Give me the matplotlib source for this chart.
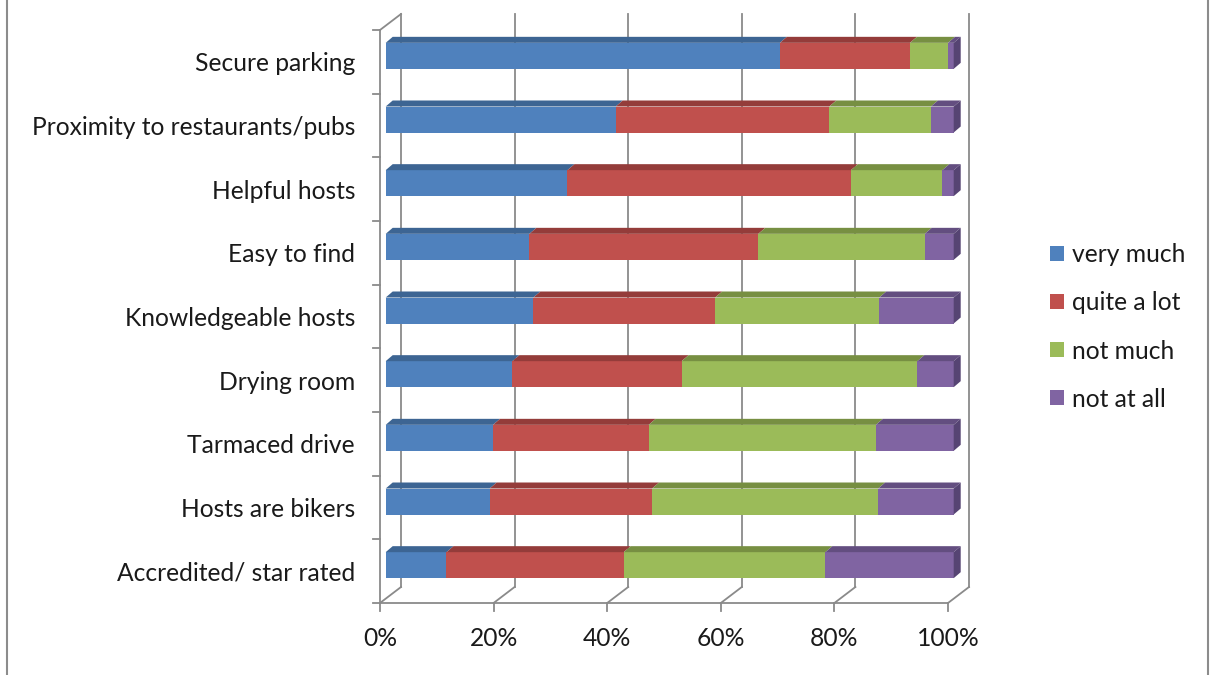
import matplotlib.pyplot as plt
from matplotlib.patches import Polygon, Patch, Rectangle

categories = ['Secure parking', 'Proximity to restaurants/pubs', 'Helpful hosts',
              'Easy to find', 'Knowledgeable hosts', 'Drying room',
              'Tarmaced drive', 'Hosts are bikers', 'Accredited/ star rated']
series = ['very much', 'quite a lot', 'not much', 'not at all']
very_much = [69.4, 40.5, 32.0, 25.3, 26.0, 22.3, 18.9, 18.3, 10.7]
quite_a_lot = [22.9, 37.6, 49.9, 40.3, 32.0, 29.8, 27.4, 28.6, 31.2]
not_much = [6.7, 17.9, 16.1, 29.3, 28.9, 41.5, 40.0, 39.8, 35.5]
not_at_all = [1.0, 4.0, 2.0, 5.1, 13.1, 6.4, 13.7, 13.3, 22.6]
xticks = [0, 20, 40, 60, 80, 100]
xticklabels = ['0%', '20%', '40%', '60%', '80%', '100%']

face = ['#4F81BD', '#C0504D', '#9BBB59', '#8064A2']
top = ['#3D6593', '#943C3A', '#778F42', '#634E80']
side = '#564473'
grid = '#8A8A8A'
txt = '#1A1A1A'

plt.rcParams['font.family'] = ['Lato', 'DejaVu Sans']
plt.rcParams['font.size'] = 17.7

W, H = 1214, 675
fig = plt.figure(figsize=(W / 100, H / 100), dpi=100)
ax = fig.add_axes([380 / W, (H - 603) / H, 568 / W, 573 / H])
ax.set_xlim(0, 100)
ax.set_ylim(-0.5, 8.5)
for s in ax.spines.values():
    s.set_visible(False)

# pixel sizes in data units
px = 100 / 568
py = 9 / 573
bx, by = 21 * px, 16 * py          # back wall offset
fx, fy = 5.7 * px, 6 * py          # bar front face offset
dx, dy = 7 * px, 6 * py            # bar depth
bh = 26 * py                       # bar height

lw = 1.3
# back wall gridlines and floor diagonals
for x in xticks:
    ax.plot([x + bx, x + bx], [-0.5 + by, 8.5 + by], color=grid, lw=lw, clip_on=False, zorder=1)
    ax.plot([x, x + bx], [-0.5, -0.5 + by], color=grid, lw=lw, clip_on=False, zorder=1)
    ax.plot([x, x], [-0.5, -0.5 - 8 * py], color=grid, lw=lw, clip_on=False, zorder=1)
# left wall
ax.plot([0, 0], [-0.5, 8.5], color=grid, lw=lw, clip_on=False, zorder=1)
ax.plot([0, bx], [8.5, 8.5 + by], color=grid, lw=lw, clip_on=False, zorder=1)
ax.plot([0, 100], [-0.5, -0.5], color=grid, lw=lw, clip_on=False, zorder=1)
for yb in range(10):
    ax.plot([0, -7 * px], [yb - 0.5, yb - 0.5], color=grid, lw=lw, clip_on=False, zorder=1)

ypos = [len(categories) - 1 - i for i in range(len(categories))]
values = [very_much, quite_a_lot, not_much, not_at_all]
lefts = [0.0] * len(categories)
for k, vals in enumerate(values):
    yc = [y + fy for y in ypos]
    bars = ax.barh(yc, vals, left=[l + fx for l in lefts], height=bh, color=face[k],
                   edgecolor='none', zorder=3)
    for b in bars:
        b.set_clip_on(False)
    for y, l, v in zip(yc, lefts, vals):
        yt = y + bh / 2
        x0, x1 = l + fx, l + v + fx
        ax.add_patch(Polygon([(x0, yt), (x1, yt), (x1 + dx, yt + dy), (x0 + dx, yt + dy)],
                             closed=True, facecolor=top[k], edgecolor='none', zorder=3,
                             clip_on=False))
        if k == len(values) - 1:
            yb0 = y - bh / 2
            ax.add_patch(Polygon([(x1, yb0), (x1, yt), (x1 + dx, yt + dy), (x1 + dx, yb0 + dy)],
                                 closed=True, facecolor=side, edgecolor='none', zorder=3,
                                 clip_on=False))
    lefts = [l + v for l, v in zip(lefts, vals)]

ax.set_yticks(ypos)
ax.set_yticklabels(categories, color=txt)
ax.set_xticks(xticks)
ax.set_xticklabels(xticklabels, color=txt)
ax.tick_params(axis='y', length=0, pad=18)
ax.tick_params(axis='x', length=0, pad=17)

handles = [Patch(facecolor=c, edgecolor='none') for c in face]
fig.legend(handles, series, loc='center left', bbox_to_anchor=(1050 / W, 1 - 327 / H),
           frameon=False, borderpad=0, borderaxespad=0, handlelength=0.57, handleheight=0.57,
           handletextpad=0.33, labelspacing=1.02, labelcolor=txt)

fig.patches.append(Rectangle((7 / W, -0.02), 1201 / W, 1.04, transform=fig.transFigure,
                             fill=False, edgecolor='#8C8C8C', lw=1.5))

fig.savefig('out.png', dpi=100)
